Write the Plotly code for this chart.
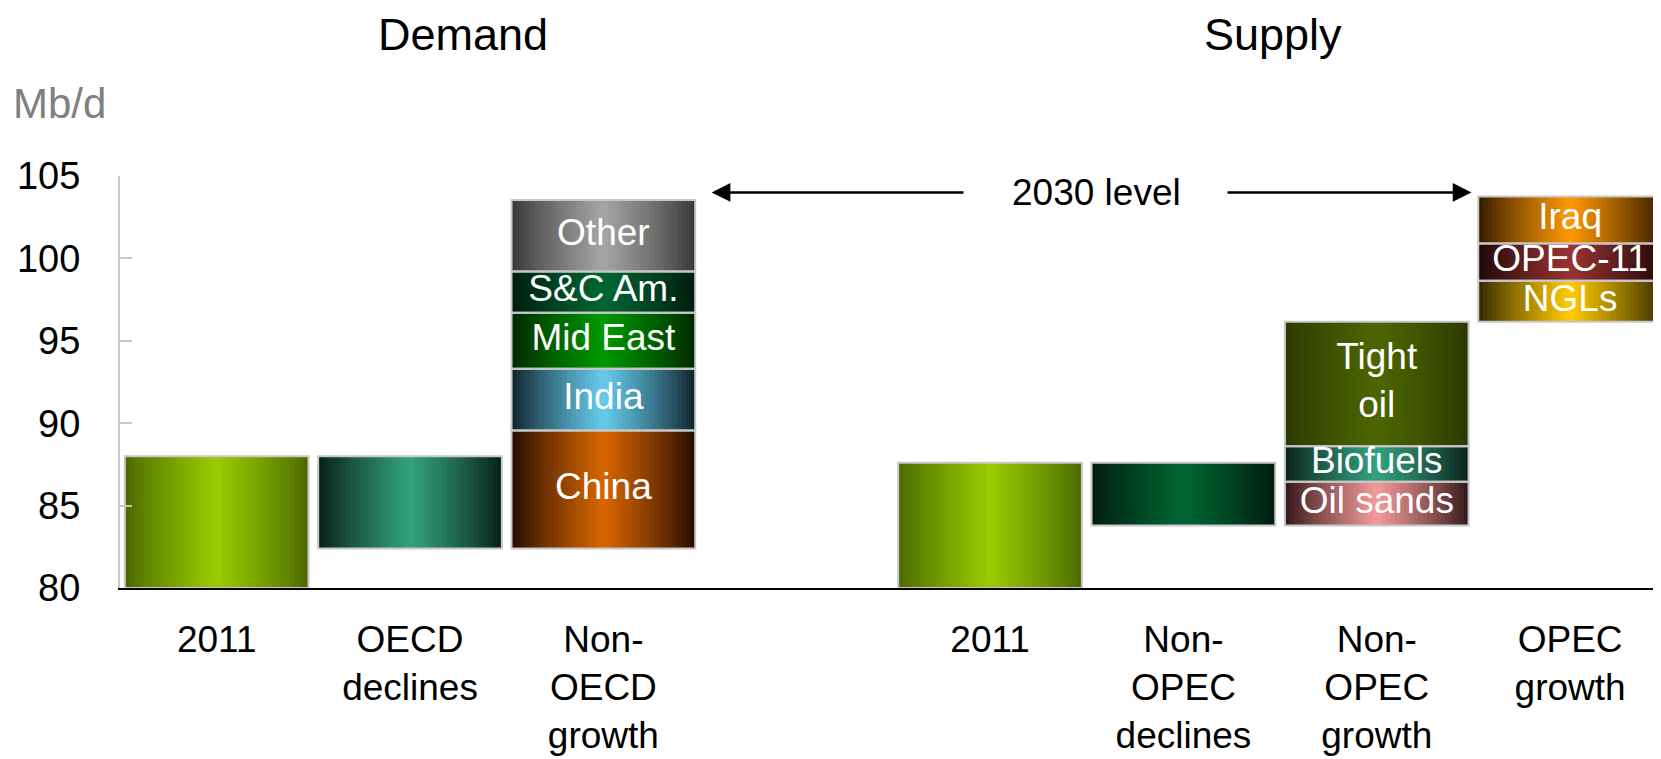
import plotly.graph_objects as go

# ---------------- data ----------------
demand_labels = ["2011", "OECD<br>declines", "Non-<br>OECD<br>growth"]
supply_labels = ["2011", "Non-<br>OPEC<br>declines", "Non-<br>OPEC<br>growth", "OPEC<br>growth"]

demand_2011 = 88.0
demand_after_oecd = 82.4
non_oecd_names = ["China", "India", "Mid East", "S&C Am.", "Other"]
non_oecd_tops = [89.55, 93.3, 96.7, 99.2, 103.55]

supply_2011 = 87.6
supply_after_declines = 83.8
non_opec_names = ["Oil sands", "Biofuels", "Tight<br>oil"]
non_opec_tops = [86.45, 88.6, 96.15]
opec_names = ["NGLs", "OPEC-11", "Iraq"]
opec_tops = [98.65, 100.9, 103.75]

level_2030 = 104.0
y_ticks = [80, 85, 90, 95, 100, 105]

# ---------------- styles ----------------
grad = {
    "d2011": ("#4a6600", "#99cc00"),
    "oecd": ("#061c16", "#33a37f"),
    "China": ("#1f0a00", "#d96600"),
    "India": ("#0d1f26", "#66ccee"),
    "Mid East": ("#002400", "#009900"),
    "S&C Am.": ("#001a0d", "#006633"),
    "Other": ("#363636", "#a6a6a6"),
    "s2011": ("#4a6600", "#99cc00"),
    "nonopec": ("#001a0d", "#006633"),
    "Oil sands": ("#2e1414", "#f49a9a"),
    "Biofuels": ("#0a201a", "#33a37f"),
    "Tight<br>oil": ("#2b3800", "#4d6600"),
    "NGLs": ("#2e2400", "#ffcc00"),
    "OPEC-11": ("#1a0606", "#993333"),
    "Iraq": ("#2e1600", "#ff9900"),
}
FONT = "Liberation Sans, Arial, sans-serif"
BAR_W = 0.95
NSTRIP = 40

# ---------------- build segments ----------------
nd = len(demand_labels)
xs_d = list(range(nd))
xs_s = [nd + 1 + i for i in range(len(supply_labels))]

segments = []  # (x, low, high, style_key, label)
segments.append((xs_d[0], 80, demand_2011, "d2011", ""))
segments.append((xs_d[1], demand_after_oecd, demand_2011, "oecd", ""))
low = demand_after_oecd
for n, t in zip(non_oecd_names, non_oecd_tops):
    segments.append((xs_d[2], low, t, n, n))
    low = t
segments.append((xs_s[0], 80, supply_2011, "s2011", ""))
segments.append((xs_s[1], supply_after_declines, supply_2011, "nonopec", ""))
low = supply_after_declines
for n, t in zip(non_opec_names, non_opec_tops):
    segments.append((xs_s[2], low, t, n, n))
    low = t
low = non_opec_tops[-1]
for n, t in zip(opec_names, opec_tops):
    segments.append((xs_s[3], low, t, n, n))
    low = t


def hex2rgb(h):
    h = h.lstrip("#")
    return [int(h[i:i + 2], 16) for i in (0, 2, 4)]


def mix(c1, c2, f):
    a, b = hex2rgb(c1), hex2rgb(c2)
    return "rgb(%d,%d,%d)" % tuple(round(a[i] + (b[i] - a[i]) * f) for i in range(3))


sx, sbase, sy, swidth, soff, scol = [], [], [], [], [], []
s = BAR_W / NSTRIP
for x, lo, hi, key, lab in segments:
    edge, center = grad[key]
    for i in range(NSTRIP):
        t = (i + 0.5) / NSTRIP
        f = 1 - abs(2 * t - 1)
        f = f ** 0.85
        left = -BAR_W / 2 + i * s
        right = min(left + s * 1.6, BAR_W / 2)
        sx.append(x)
        sbase.append(lo)
        sy.append(hi - lo)
        swidth.append(right - left)
        soff.append(left)
        scol.append(mix(edge, center, f))

fig = go.Figure()
fig.add_trace(go.Bar(
    x=sx, y=sy, base=sbase, width=swidth, offset=soff,
    marker=dict(color=scol, line=dict(width=0)),
    hoverinfo="skip", showlegend=False,
))
fig.add_trace(go.Bar(
    x=[sg[0] for sg in segments],
    y=[sg[2] - sg[1] for sg in segments],
    base=[sg[1] for sg in segments],
    width=BAR_W, offset=-BAR_W / 2,
    marker=dict(color="rgba(0,0,0,0)", line=dict(color="#c8c8c8", width=2)),
    hoverinfo="skip", showlegend=False,
))
lab_segs = [sg for sg in segments if sg[4]]
fig.add_trace(go.Scatter(
    x=[sg[0] for sg in lab_segs],
    y=[(sg[1] + sg[2]) / 2 for sg in lab_segs],
    text=[sg[4] for sg in lab_segs],
    mode="text",
    textfont=dict(family=FONT, size=37, color="white"),
    hoverinfo="skip", showlegend=False, cliponaxis=False,
))

# arrows "2030 level"
ann = [
    dict(x=2.56, y=level_2030, ax=3.87, ay=level_2030, xref="x", yref="y", axref="x", ayref="y",
         text="", showarrow=True, arrowhead=2, arrowsize=1.5, arrowwidth=2.5, arrowcolor="black"),
    dict(x=6.49, y=level_2030, ax=5.22, ay=level_2030, xref="x", yref="y", axref="x", ayref="y",
         text="", showarrow=True, arrowhead=2, arrowsize=1.5, arrowwidth=2.5, arrowcolor="black"),
    dict(x=4.55, y=level_2030, xref="x", yref="y", text="2030 level", showarrow=False,
         font=dict(family=FONT, size=37, color="black")),
    dict(x=0.2226, y=1.344, xref="paper", yref="paper", text="Demand", showarrow=False,
         xanchor="center", yanchor="middle",
         font=dict(family=FONT, size=45, color="black")),
    dict(x=0.748, y=1.344, xref="paper", yref="paper", text="Supply", showarrow=False,
         xanchor="center", yanchor="middle",
         font=dict(family=FONT, size=45, color="black")),
    dict(x=-0.071, y=1.177, xref="paper", yref="paper", text="Mb/d", showarrow=False,
         xanchor="left", yanchor="middle",
         font=dict(family=FONT, size=42, color="#808080")),
]

fig.update_layout(
    width=1661, height=759,
    margin=dict(l=112, r=8, t=168, b=179),
    barmode="overlay",
    plot_bgcolor="white", paper_bgcolor="white",
    annotations=ann,
    font=dict(family=FONT, color="black"),
)
fig.update_xaxes(
    range=[-0.5, 7.47],
    tickvals=xs_d + xs_s,
    ticktext=demand_labels + supply_labels,
    tickfont=dict(family=FONT, size=37, color="black"),
    showline=True, linecolor="black", linewidth=1.5,
    showgrid=False, zeroline=False, ticks="",
    ticklabelstandoff=18,
)
fig.update_yaxes(
    range=[80, 105],
    tickvals=y_ticks,
    tickfont=dict(family=FONT, size=38, color="black"),
    showline=True, linecolor="#c8c8c8", linewidth=2,
    ticks="inside", ticklen=12, tickwidth=2, tickcolor="#c8c8c8",
    showgrid=False, zeroline=False,
    ticklabelstandoff=30,
)

fig.write_html("out.html")
